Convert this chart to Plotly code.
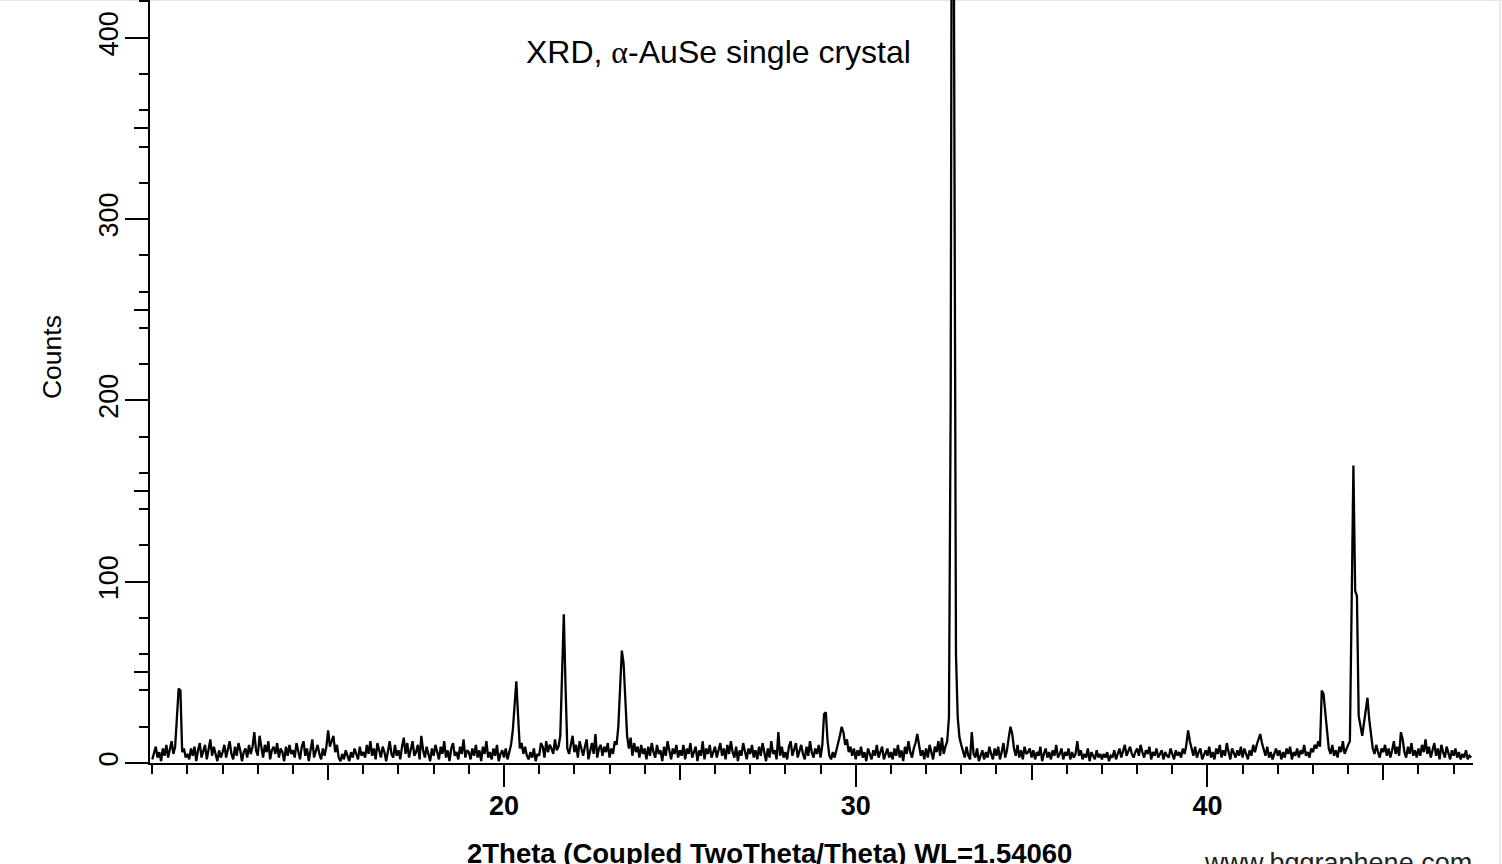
import numpy as np
import plotly.graph_objects as go

# 2-theta sampling grid (degrees): 10.00 .. 47.50, step 0.05
two_theta_start = 10.0
two_theta_step = 0.05

# Counts, one row per degree (20 samples per degree)
counts_10 = [2, 5, 9, 3, 6, 1, 8, 4, 10, 3, 7, 12, 5, 9, 25, 41, 40, 6, 8, 3]
counts_11 = [5, 2, 8, 4, 9, 1, 7, 11, 3, 6, 10, 2, 8, 13, 4, 9, 5, 1, 7, 3]
counts_12 = [6, 10, 3, 8, 12, 5, 2, 9, 4, 11, 7, 1, 6, 8, 3, 10, 5, 9, 17, 7]
counts_13 = [4, 15, 8, 3, 10, 6, 12, 2, 7, 9, 5, 11, 3, 8, 6, 1, 9, 4, 10, 5]
counts_14 = [7, 3, 11, 6, 2, 9, 12, 4, 8, 1, 6, 13, 3, 7, 10, 5, 2, 8, 4, 9]
counts_15 = [18, 9, 12, 15, 6, 10, 3, 1, 5, 2, 7, 4, 1, 6, 3, 8, 5, 2, 9, 4]
counts_16 = [6, 3, 10, 5, 12, 4, 8, 2, 11, 7, 3, 9, 6, 1, 8, 12, 5, 3, 10, 4]
counts_17 = [7, 2, 9, 14, 5, 11, 3, 8, 12, 4, 6, 10, 2, 15, 7, 3, 9, 5, 1, 8]
counts_18 = [4, 10, 6, 2, 9, 5, 12, 3, 7, 1, 8, 11, 4, 6, 2, 9, 5, 13, 3, 7]
counts_19 = [6, 2, 8, 4, 10, 3, 7, 1, 9, 5, 12, 3, 6, 2, 8, 4, 10, 1, 5, 7]
counts_20 = [3, 8, 2, 6, 10, 18, 30, 45, 26, 8, 11, 5, 9, 4, 2, 6, 3, 8, 1, 5]
counts_21 = [4, 11, 9, 3, 12, 6, 10, 8, 5, 13, 7, 9, 15, 45, 82, 42, 8, 5, 11, 15]
counts_22 = [6, 10, 3, 12, 8, 4, 9, 13, 2, 7, 11, 5, 16, 3, 8, 10, 4, 9, 6, 11]
counts_23 = [3, 8, 5, 12, 10, 20, 42, 62, 55, 30, 15, 8, 14, 4, 11, 6, 9, 3, 10, 5]
counts_24 = [8, 2, 9, 4, 11, 6, 3, 10, 5, 7, 1, 9, 4, 12, 6, 2, 8, 5, 10, 3]
counts_25 = [7, 4, 10, 2, 8, 5, 11, 3, 6, 9, 1, 7, 4, 12, 2, 8, 5, 10, 3, 6]
counts_26 = [9, 3, 7, 11, 4, 8, 2, 10, 5, 12, 6, 3, 9, 1, 7, 4, 11, 6, 2, 8]
counts_27 = [5, 10, 3, 7, 2, 9, 4, 11, 6, 1, 8, 3, 12, 5, 7, 2, 17, 4, 9, 3]
counts_28 = [6, 2, 9, 12, 4, 8, 11, 3, 7, 10, 5, 2, 9, 4, 12, 6, 3, 8, 5, 10]
counts_29 = [3, 10, 27, 28, 12, 4, 2, 6, 3, 8, 11, 15, 20, 17, 10, 13, 6, 9, 4, 8]
counts_30 = [2, 7, 4, 9, 3, 6, 1, 8, 5, 2, 7, 4, 10, 3, 6, 9, 2, 5, 8, 3]
counts_31 = [6, 2, 8, 4, 10, 3, 7, 1, 9, 5, 12, 6, 3, 8, 11, 16, 9, 4, 7, 2]
counts_32 = [8, 3, 10, 5, 2, 9, 6, 12, 4, 14, 5, 9, 12, 25, 200, 700, 340, 60, 25, 14]
counts_33 = [10, 6, 3, 9, 4, 2, 17, 5, 3, 8, 1, 4, 7, 2, 6, 3, 9, 5, 2, 8]
counts_34 = [4, 9, 2, 6, 11, 3, 7, 14, 20, 16, 8, 4, 10, 3, 7, 2, 9, 5, 6, 8]
counts_35 = [3, 7, 2, 6, 4, 9, 1, 5, 8, 3, 6, 2, 7, 4, 10, 3, 5, 8, 2, 6]
counts_36 = [4, 8, 2, 6, 3, 5, 12, 4, 7, 2, 5, 3, 8, 1, 6, 4, 2, 7, 3, 5]
counts_37 = [2, 5, 3, 6, 1, 4, 3, 7, 2, 5, 8, 3, 6, 10, 4, 7, 9, 5, 3, 6]
counts_38 = [8, 4, 10, 6, 3, 7, 5, 9, 2, 6, 4, 8, 3, 5, 7, 2, 6, 4, 3, 8]
counts_39 = [5, 2, 7, 4, 6, 3, 8, 5, 10, 18, 12, 7, 4, 9, 3, 6, 8, 2, 5, 7]
counts_40 = [4, 9, 3, 6, 2, 8, 5, 10, 3, 7, 4, 11, 6, 2, 8, 5, 3, 7, 4, 9]
counts_41 = [3, 8, 5, 2, 7, 4, 10, 6, 10, 13, 16, 11, 7, 4, 9, 3, 6, 2, 5, 8]
counts_42 = [4, 7, 2, 6, 3, 8, 5, 9, 2, 6, 4, 8, 3, 7, 5, 10, 4, 6, 3, 8]
counts_43 = [6, 10, 8, 12, 9, 40, 38, 28, 20, 8, 5, 10, 4, 7, 3, 9, 6, 12, 5, 8]
counts_44 = [10, 12, 83, 164, 95, 92, 26, 20, 15, 22, 30, 36, 24, 16, 8, 5, 10, 6, 3, 8]
counts_45 = [6, 10, 4, 8, 3, 7, 12, 5, 9, 4, 17, 13, 6, 3, 9, 5, 11, 4, 7, 3]
counts_46 = [8, 4, 10, 6, 13, 5, 9, 3, 7, 11, 4, 8, 2, 10, 6, 3, 9, 5, 2, 7]
counts_47 = [4, 8, 3, 6, 2, 5, 3, 7, 2, 4, 3]

counts = (counts_10 + counts_11 + counts_12 + counts_13 + counts_14 + counts_15 +
          counts_16 + counts_17 + counts_18 + counts_19 + counts_20 + counts_21 +
          counts_22 + counts_23 + counts_24 + counts_25 + counts_26 + counts_27 +
          counts_28 + counts_29 + counts_30 + counts_31 + counts_32 + counts_33 +
          counts_34 + counts_35 + counts_36 + counts_37 + counts_38 + counts_39 +
          counts_40 + counts_41 + counts_42 + counts_43 + counts_44 + counts_45 +
          counts_46 + counts_47)
two_theta = np.round(two_theta_start + two_theta_step * np.arange(len(counts)), 3)

x_major = [20, 30, 40]
x_mid = [15, 25, 35, 45]
y_major = [0, 100, 200, 300, 400]
y_mid = [50, 150, 250, 350]

title_text = "XRD, <span style='font-family:Liberation Serif'>α</span>-AuSe single crystal"
x_title = "2Theta (Coupled TwoTheta/Theta) WL=1.54060"
y_title = "Counts"
watermark = "www.bqgraphene.com"

X_RANGE = [9.935, 47.55]
Y_RANGE = [0, 420.8]
FONT = "Liberation Sans, Arial, sans-serif"

fig = go.Figure()
fig.add_trace(go.Scatter(x=two_theta, y=counts, mode="lines",
                         line=dict(color="black", width=2.3), hoverinfo="skip",
                         showlegend=False))
# invisible trace on secondary axes so they render
fig.add_trace(go.Scatter(x=[None], y=[None], xaxis="x2", yaxis="y2",
                         showlegend=False, hoverinfo="skip"))

fig.update_layout(
    width=1502, height=864,
    margin=dict(l=150, r=29, t=0, b=101),
    paper_bgcolor="white", plot_bgcolor="white",
    font=dict(family=FONT, color="black"),
    xaxis=dict(range=X_RANGE, showgrid=False, zeroline=False,
               showline=True, linecolor="black", linewidth=2,
               ticks="outside", tickvals=x_major, ticklen=22, tickwidth=2,
               tickcolor="black", ticklabelstandoff=-4,
               tickfont=dict(family=FONT, size=27, color="black", weight="bold"),
               minor=dict(dtick=1, tick0=0, ticks="outside", ticklen=9,
                          tickwidth=1.5, tickcolor="black", showgrid=False)),
    xaxis2=dict(range=X_RANGE, overlaying="x", anchor="y", side="bottom",
                showgrid=False, zeroline=False, showline=False,
                ticks="outside", tickvals=x_mid, ticklen=16, tickwidth=1.5,
                tickcolor="black", showticklabels=False),
    yaxis=dict(range=Y_RANGE, showgrid=False, zeroline=False,
               showline=True, linecolor="black", linewidth=2,
               ticks="outside", tickvals=y_major, ticklen=23, tickwidth=2,
               tickcolor="black", tickangle=-90, ticklabelstandoff=-4,
               tickfont=dict(family=FONT, size=27, color="black"),
               minor=dict(dtick=20, tick0=0, ticks="outside", ticklen=9,
                          tickwidth=1.5, tickcolor="black", showgrid=False)),
    yaxis2=dict(range=Y_RANGE, overlaying="y", anchor="x", side="left",
                showgrid=False, zeroline=False, showline=False,
                ticks="outside", tickvals=y_mid, ticklen=15, tickwidth=1.5,
                tickcolor="black", showticklabels=False),
    annotations=[
        dict(text=title_text, xref="paper", yref="paper", x=0.430, y=0.932,
             xanchor="center", yanchor="middle", showarrow=False,
             font=dict(family=FONT, size=32, color="black")),
        dict(text=x_title, xref="paper", yref="paper", x=0.4686, y=-0.118,
             xanchor="center", yanchor="middle", showarrow=False,
             font=dict(family=FONT, size=27.5, color="black", weight="bold")),
        dict(text=y_title, xref="paper", yref="paper", x=-0.0741, y=0.532,
             xanchor="center", yanchor="middle", showarrow=False, textangle=-90,
             font=dict(family=FONT, size=26.5, color="black")),
        dict(text=watermark, xref="paper", yref="paper", x=0.795, y=-0.131,
             xanchor="left", yanchor="middle", showarrow=False,
             font=dict(family=FONT, size=27, color="#222222")),
    ],
    shapes=[
        dict(type="line", xref="paper", yref="paper", x0=-0.12, x1=1.03,
             y0=1, y1=1, line=dict(color="#dfe6ee", width=2), layer="below"),
        dict(type="line", xref="paper", yref="paper", x0=1.0204, x1=1.0204,
             y0=-0.14, y1=1, line=dict(color="#e6eaf0", width=2), layer="below"),
    ],
)

fig.write_html("out.html", config={"displayModeBar": False},
               post_script="document.body.style.margin='0';")
